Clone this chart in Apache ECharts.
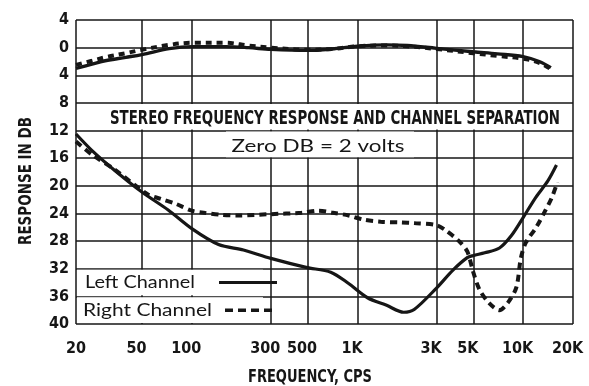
<!DOCTYPE html>
<html>
<head>
<meta charset="utf-8">
<script src="https://cdn.jsdelivr.net/npm/echarts@6/dist/echarts.min.js"></script>
<style>
  html, body { margin: 0; padding: 0; background: #fff; }
  #chart { width: 589px; height: 386px; }
</style>
</head>
<body>
<div id="chart"></div>
<script>
// Frequency axis (Hz) ticks and their printed labels
const freqTicks = [20, 50, 100, 300, 500, 1000, 3000, 5000, 10000, 20000];
const freqTickLabels = ['20', '50', '100', '300', '500', '1K', '3K', '5K', '10K', '20K'];

// Response axis (dB) ticks and their printed labels
const dbTicks = [4, 0, -4, -8, -12, -16, -20, -24, -28, -32, -36, -40];
const dbTickLabels = ['4', '0', '4', '8', '12', '16', '20', '24', '28', '32', '36', '40'];

// Frequency response of each channel (dB re 2 volts)
const respFreq = [20, 25, 30, 40, 50, 73, 100, 160, 220, 300, 500, 700, 1000, 1500, 2000, 3000, 5000, 7000, 10000, 12500, 14700];
const leftResp = [-3.0, -2.4, -1.9, -1.4, -1.0, -0.15, 0.15, 0.15, 0.0, -0.25, -0.4, -0.2, 0.2, 0.4, 0.3, -0.1, -0.6, -0.9, -1.3, -2.0, -2.9];
const rightResp = [-2.5, -1.9, -1.4, -0.8, -0.3, 0.4, 0.7, 0.7, 0.3, 0.0, -0.3, -0.2, 0.2, 0.3, 0.2, -0.2, -0.8, -1.2, -1.6, -2.2, -3.1];

// Channel separation (crosstalk level, dB)
const leftSepFreq = [20, 25, 34, 50, 72, 100, 145, 205, 300, 490, 690, 880, 1150, 1500, 1900, 2200, 3000, 3770, 4600, 5000, 5860, 7200, 8500, 10000, 11900, 14100, 15900];
const leftSep = [-12.5, -14.9, -17.7, -20.9, -23.5, -26.2, -28.5, -29.3, -30.5, -31.8, -32.5, -34.1, -36.2, -37.3, -38.3, -37.9, -34.8, -32.2, -30.4, -30.1, -29.7, -29.0, -27.2, -24.6, -21.7, -19.3, -17.0];
const rightSepFreq = [20, 25, 34, 54, 65, 80, 100, 118, 150, 190, 300, 460, 580, 710, 885, 1090, 1380, 1830, 2200, 3000, 3430, 4100, 4600, 5000, 5450, 6200, 7200, 8100, 9100, 9700, 10400, 12000, 13600, 14900, 16100];
const rightSep = [-13.6, -15.5, -17.6, -21.2, -21.9, -22.6, -23.6, -23.9, -24.2, -24.3, -24.1, -23.9, -23.6, -23.9, -24.3, -24.9, -25.2, -25.3, -25.4, -25.7, -26.5, -28.0, -29.5, -32.5, -35.0, -36.9, -38.0, -36.9, -34.7, -30.4, -28.2, -26.0, -23.6, -21.7, -19.5];

const ink = '#161616';
const condensed = "'DejaVu Sans Condensed', 'Liberation Sans Narrow', sans-serif";
const rounded = "Lato, 'Open Sans', sans-serif";

const pairs = (fs, vs) => fs.map((f, i) => [f, vs[i]]);

function freqLabel(v) {
  const i = freqTicks.findIndex(f => Math.abs(f - v) / f < 1e-6);
  if (i < 0) return '';
  return (i === 0 ? '{e|' : '{k|') + freqTickLabels[i] + '}';
}
function dbLabel(v) {
  const i = dbTicks.findIndex(d => Math.abs(d - v) < 1e-6);
  return i < 0 ? '' : dbTickLabels[i];
}

const tickFont = { fontFamily: condensed, fontWeight: 'bold', fontSize: 16, color: ink };

const chart = echarts.init(document.getElementById('chart'), null, { renderer: 'canvas' });

const option = {
  animation: false,
  backgroundColor: '#ffffff',
  grid: { left: 76, right: 16, top: 20, bottom: 62 },
  xAxis: {
    type: 'log',
    logBase: 10,
    min: 20,
    max: 20000,
    axisLine: { show: false },
    axisTick: { show: false, customValues: freqTicks },
    axisLabel: Object.assign({
      customValues: freqTicks,
      formatter: freqLabel,
      margin: 17,
      rich: {
        e: Object.assign({}, tickFont),
        k: Object.assign({ padding: [0, 11, 0, 0] }, tickFont)
      }
    }, tickFont),
    splitLine: { show: true, lineStyle: { color: ink, width: 1.5 } },
    minorTick: { show: false },
    minorSplitLine: { show: false }
  },
  yAxis: {
    type: 'value',
    min: -40,
    max: 4,
    interval: 4,
    axisLine: { show: false },
    axisTick: { show: false },
    axisLabel: Object.assign({ formatter: dbLabel, margin: 7 }, tickFont),
    splitLine: { show: true, lineStyle: { color: ink, width: 1.5 } }
  },
  series: [
    {
      name: 'Left Channel', type: 'line', data: pairs(respFreq, leftResp),
      showSymbol: false, smooth: 0.35, z: 4,
      lineStyle: { color: ink, width: 3.4 }
    },
    {
      name: 'Right Channel', type: 'line', data: pairs(respFreq, rightResp),
      showSymbol: false, smooth: 0.35, z: 5,
      lineStyle: { color: ink, width: 4, type: [6, 5] }
    },
    {
      name: 'Left Channel', type: 'line', data: pairs(leftSepFreq, leftSep),
      showSymbol: false, smooth: 0.3, z: 4,
      lineStyle: { color: ink, width: 3.2 }
    },
    {
      name: 'Right Channel', type: 'line', data: pairs(rightSepFreq, rightSep),
      showSymbol: false, smooth: 0.3, z: 5,
      lineStyle: { color: ink, width: 4, type: [7, 5] }
    }
  ]
};
chart.setOption(option);

// Text boxes laid over the grid
const measure = document.createElement('canvas').getContext('2d');
function fitScale(text, font, width) {
  measure.font = font;
  return width / measure.measureText(text).width;
}
const py = v => chart.convertToPixel({ yAxisIndex: 0 }, v);
const px = f => chart.convertToPixel({ xAxisIndex: 0 }, f);

const x0 = px(20), x1 = px(20000);
const y8 = py(-8), y12 = py(-12), y16 = py(-16), y32 = py(-32), y36 = py(-36), y40 = py(-40);

function fittedText(text, font, cx, cy, width, extra) {
  return Object.assign({
    type: 'text', x: cx, y: cy, z: 10,
    scaleX: fitScale(text, font, width),
    style: { text: text, font: font, fill: ink, align: 'center', verticalAlign: 'middle' }
  }, extra || {});
}
function whiteBox(xa, ya, xb, yb) {
  return { type: 'rect', z: 1, shape: { x: xa, y: ya, width: xb - xa, height: yb - ya }, style: { fill: '#ffffff' } };
}

const titleFont = 'bold 19px ' + condensed;
const noteFont = '18px ' + rounded;
const axisFont = 'bold 17px ' + condensed;

const legendRight = 263;
const yLeft = (y32 + y36) / 2, yRight = (y36 + y40) / 2;

chart.setOption({
  graphic: { elements: [
    whiteBox(x0 + 1, y8 + 1, x1 - 1, y12 - 1),
    fittedText('STEREO FREQUENCY RESPONSE AND CHANNEL SEPARATION', titleFont, 335, (y8 + y12) / 2 + 2, 450),
    whiteBox(226, y12 + 1, 414, y16 - 1),
    fittedText('Zero DB = 2 volts', noteFont, 318, (y12 + y16) / 2 + 2, 173),
    whiteBox(x0 + 1, y32 + 1, legendRight, y36 - 1),
    whiteBox(x0 + 1, y36 + 1, legendRight, y40 - 1),
    fittedText('Left Channel', noteFont, 85 + 55, yLeft, 110),
    { type: 'line', z: 10, shape: { x1: 219, y1: yLeft, x2: 277, y2: yLeft }, style: { stroke: ink, lineWidth: 3 } },
    fittedText('Right Channel', noteFont, 83 + 64.5, yRight, 129),
    { type: 'line', z: 10, shape: { x1: 225, y1: yRight, x2: 277, y2: yRight }, style: { stroke: ink, lineWidth: 3.5, lineDash: [8, 5] } },
    fittedText('FREQUENCY, CPS', axisFont, 310, 378, 124),
    fittedText('RESPONSE IN DB', axisFont, 27, 181, 128, { rotation: Math.PI / 2 })
  ] }
});
</script>
</body>
</html>
